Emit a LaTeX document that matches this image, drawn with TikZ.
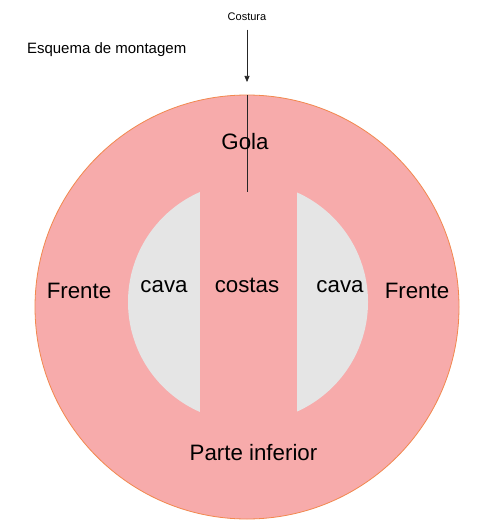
\documentclass[tikz,border=0pt]{standalone}
\usepackage{fontspec}
\setmainfont{Liberation Sans}
\usetikzlibrary{arrows.meta}
\definecolor{pele}{HTML}{F7ABAB}
\definecolor{borda}{HTML}{F2884E}
\definecolor{cinza}{HTML}{E5E5E5}
\begin{document}
\begin{tikzpicture}[x=1pt,y=-1pt,
  rotulo/.style={anchor=base,font=\fontsize{22.3}{26}\selectfont},
  costura/.style={black!85,line width=0.7pt}]
\useasboundingbox[fill=white] (0,0) rectangle (500,526);
% corpo da peca
\filldraw[fill=pele,draw=borda,line width=0.8pt] (247,307) circle [radius=212];
% cavas
\begin{scope}
\clip (248,302) circle [radius=120];
\fill[cinza] (120,170) rectangle (200,430);
\fill[cinza] (297,170) rectangle (380,430);
\end{scope}
% titulos
\node[anchor=base west,font=\fontsize{15}{18}\selectfont] (titulo) at (23.5,53.5) {Esquema de montagem};
\node[anchor=base,font=\fontsize{11}{13}\selectfont] (ponto) at (247,21) {Costura};
\coordinate (ponta) at (247,82);
\coordinate (topo) at (247,95);
\coordinate (fim) at (247,192);
\draw[costura,-{Triangle[length=6pt,width=5pt]}] (ponto.south) ++(0,5) -- (ponta);
\draw[costura] (topo) -- (fim);
% partes
\node[rotulo] (gola) at (245,150) {Gola};
\node[rotulo] (frenteE) at (79,298) {Frente};
\node[rotulo] (frenteD) at (417,298) {Frente};
\node[rotulo] (cavaE) at (164,292) {cava};
\node[rotulo] (costas) at (247,292) {costas};
\node[rotulo] (cavaD) at (340,292) {cava};
\node[rotulo] (base) at (253.5,460) {Parte inferior};
\end{tikzpicture}
\end{document}
